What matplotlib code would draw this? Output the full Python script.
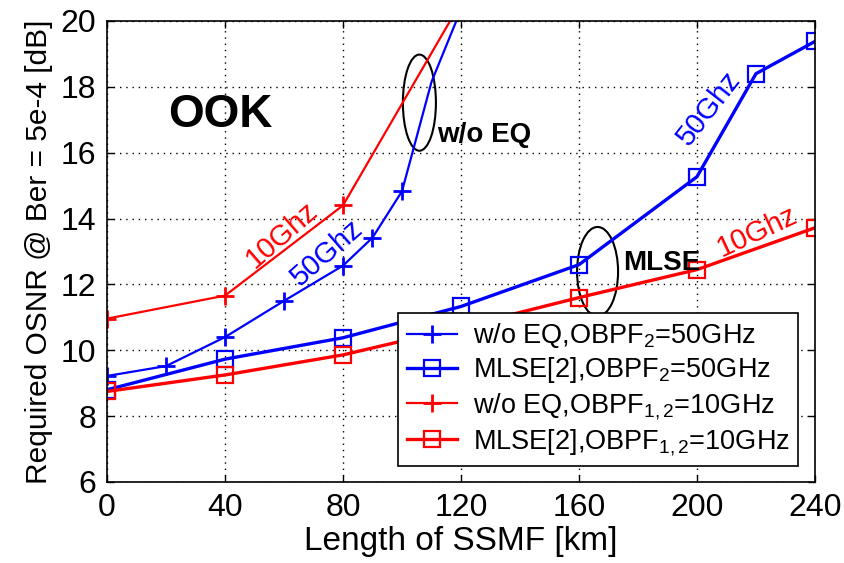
import numpy as np
import matplotlib
matplotlib.use("Agg")
import matplotlib.pyplot as plt
from matplotlib.patches import Ellipse

plt.rcParams['font.family'] = ['Liberation Sans', 'DejaVu Sans']
plt.rcParams['mathtext.fontset'] = 'custom'
plt.rcParams['mathtext.rm'] = 'Liberation Sans'
plt.rcParams['mathtext.it'] = 'Liberation Sans:italic'

# w/o EQ, OBPF2 = 50 GHz
km_noeq_50 = [0, 20, 40, 60, 80, 90, 100, 110, 120]
osnr_noeq_50 = [9.22, 9.52, 10.4, 11.5, 12.57, 13.42, 14.83, 18.15, 20.35]
# MLSE[2], OBPF2 = 50 GHz
km_mlse_50 = [0, 40, 80, 120, 160, 200, 220, 240]
osnr_mlse_50 = [8.8, 9.73, 10.38, 11.33, 12.6, 15.27, 18.4, 19.38]
# w/o EQ, OBPF1,2 = 10 GHz
km_noeq_10 = [0, 40, 80, 120]
osnr_noeq_10 = [10.96, 11.66, 14.4, 20.57]
# MLSE[2], OBPF1,2 = 10 GHz
km_mlse_10 = [0, 40, 80, 120, 160, 200, 240]
osnr_mlse_10 = [8.75, 9.25, 9.86, 10.7, 11.6, 12.45, 13.72]

labels = [r"w/o EQ,OBPF$_{2}$=50GHz",
          r"MLSE[2],OBPF$_{2}$=50GHz",
          r"w/o EQ,OBPF$_{1,2}$=10GHz",
          r"MLSE[2],OBPF$_{1,2}$=10GHz"]

fig = plt.figure(figsize=(8.44, 5.63), dpi=100)
ax = fig.add_axes([0.1268, 0.1439, 0.8388, 0.8188])

ax.plot(km_noeq_50, osnr_noeq_50, color='blue', marker='+', ms=13, mew=2,
        lw=1.6, markevery=list(range(7)), label=labels[0])
ax.plot(km_mlse_50, osnr_mlse_50, color='blue', marker='s', ms=11, mew=1.6,
        mfc='none', lw=2.4, label=labels[1])
ax.plot(km_noeq_10, osnr_noeq_10, color='red', marker='+', ms=13, mew=2,
        lw=1.6, markevery=[0, 1, 2], label=labels[2])
ax.plot(km_mlse_10, osnr_mlse_10, color='red', marker='s', ms=11, mew=1.6,
        mfc='none', lw=2.4, label=labels[3])

ax.set_xlim(0, 240)
ax.set_ylim(6, 20)
ax.set_xticks(np.arange(0, 241, 40))
ax.set_yticks(np.arange(6, 21, 2))
ax.tick_params(direction='in', length=5, width=1, top=True, right=True,
               labelsize=23, pad=8)
ax.grid(True, color='black', linestyle=(0, (1, 3.5)), linewidth=1)
for s in ax.spines.values():
    s.set_linewidth(1.2)

ax.set_xlabel("Length of SSMF [km]", fontsize=24, labelpad=2)
ax.set_ylabel("Required OSNR @ Ber = 5e-4 [dB]", fontsize=21.5, labelpad=5)

# annotations
ax.text(38.3, 17.14, "OOK", fontsize=33, fontweight='bold', ha='center', va='center')
ax.text(111.9, 16.54, "w/o EQ", fontsize=20, fontweight='bold', ha='left', va='center')
ax.text(174.9, 12.66, "MLSE", fontsize=20, fontweight='bold', ha='left', va='center')
ax.add_patch(Ellipse((105.9, 17.52), 11.2, 2.92, fill=False, ec='black', lw=1.5))
ax.add_patch(Ellipse((166.3, 12.39), 13.9, 2.71, fill=False, ec='black', lw=1.5))

ax.text(59.3, 13.5, "10Ghz", color='red', fontsize=21, rotation=41,
        ha='center', va='center', rotation_mode='anchor')
ax.text(74.6, 12.96, "50Ghz", color='blue', fontsize=21, rotation=41,
        ha='center', va='center', rotation_mode='anchor')
ax.text(204, 17.36, "50Ghz", color='blue', fontsize=21, rotation=52,
        ha='center', va='center', rotation_mode='anchor')
ax.text(220.3, 13.59, "10Ghz", color='red', fontsize=21, rotation=25,
        ha='center', va='center', rotation_mode='anchor')

leg = ax.legend(loc='lower right', bbox_to_anchor=(0.976, 0.035), fontsize=19.5,
                frameon=True, fancybox=False, framealpha=1, edgecolor='black',
                handlelength=1.85, handletextpad=0.6, labelspacing=0.2,
                borderpad=0.3, borderaxespad=0)
leg.get_frame().set_linewidth(1.2)

fig.savefig("out.png", dpi=100)
